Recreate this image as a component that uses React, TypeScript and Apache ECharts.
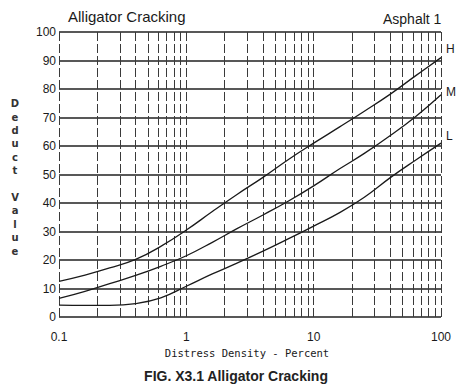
import React, { useEffect, useRef } from "react";
import * as echarts from "echarts";

const density = [0.1, 0.16, 0.25, 0.4, 0.63, 1, 1.6, 2.5, 4, 6.3, 10, 16, 25, 40, 63, 100];
const highValues = [12.5, 14.7, 17.2, 20.2, 24.8, 30.5, 37, 43, 49, 55.2, 61, 66.7, 72.2, 78.2, 84.6, 91];
const mediumValues = [6.5, 9, 11.7, 14.6, 17.8, 21.5, 26.2, 31, 35.8, 40.6, 46, 52, 57.4, 63.7, 70.3, 78];
const lowValues = [4.2, 4.1, 4.1, 4.7, 6.7, 10.8, 15.1, 18.9, 23.1, 27.4, 31.9, 36.6, 42, 48.9, 55, 61];
const minorGridX = [
  0.2, 0.3, 0.4, 0.5, 0.6, 0.7, 0.8, 0.9,
  2, 3, 4, 5, 6, 7, 8, 9,
  20, 30, 40, 50, 60, 70, 80, 90,
];
const severityLabels = ["H", "M", "L"];

const FONT = "'Liberation Sans', Arial, sans-serif";
const INK = "#1a1a1a";

export default function App() {
  const ref = useRef<HTMLDivElement>(null);
  useEffect(() => {
    if (!ref.current) return;
    const chart = echarts.init(ref.current, null, { renderer: "svg" });
    const mk = (vals: number[]) => density.map((d, i) => [d, vals[i]]);
    const curveStyle = { color: INK, width: 1.3 };
    const series: any[] = [
      { name: "H", data: mk(highValues) },
      { name: "M", data: mk(mediumValues) },
      { name: "L", data: mk(lowValues) },
    ].map((s, i) => ({
      type: "line",
      name: s.name,
      data: s.data,
      smooth: 0.45,
      showSymbol: false,
      lineStyle: curveStyle,
      silent: true,
      z: 5,
      markLine:
        i === 0
          ? {
              silent: true,
              symbol: "none",
              label: { show: false },
              lineStyle: { color: "#3a3a3a", width: 1, type: [9, 3] },
              data: minorGridX.map((x) => ({ xAxis: x })),
            }
          : undefined,
    }));
    const labelY = [50, 93, 137];
    chart.setOption({
      animation: false,
      grid: { left: 59, right: 16, top: 32, bottom: 73 },
      xAxis: {
        type: "log",
        logBase: 10,
        min: 0.1,
        max: 100,
        axisLine: { show: false },
        axisTick: { show: false },
        axisLabel: {
          color: INK,
          fontSize: 12,
          fontFamily: FONT,
          margin: 14,
          formatter: (v: number) => String(v),
        },
        splitLine: { show: true, lineStyle: { color: "#3a3a3a", width: 1, type: [9, 3] } },
      },
      yAxis: {
        type: "value",
        min: 0,
        max: 100,
        interval: 10,
        axisLine: { show: false },
        axisTick: { show: false },
        axisLabel: { color: INK, fontSize: 12, fontFamily: FONT, margin: 3 },
        splitLine: { show: true, lineStyle: { color: "#202020", width: 1.6 } },
      },
      series,
      graphic: [
        {
          type: "text",
          left: 68,
          top: 9,
          style: { text: "Alligator Cracking", font: `15px ${FONT}`, fill: INK },
        },
        {
          type: "text",
          left: 383,
          top: 12,
          style: { text: "Asphalt 1", font: `14px ${FONT}`, fill: INK },
        },
        ...severityLabels.map((t, i) => ({
          type: "text",
          left: 446,
          top: labelY[i] - 7,
          style: { text: t, font: `12px ${FONT}`, fill: INK },
        })),
        {
          type: "text",
          x: 15,
          y: 97,
          style: {
            text: "D\ne\nd\nu\nc\nt\n \nV\na\nl\nu\ne",
            font: `bold 10px 'DejaVu Sans', sans-serif`,
            lineHeight: 13.4,
            align: "center",
            fill: "#333",
          },
        },
        {
          type: "text",
          x: 247,
          y: 353,
          style: {
            text: "Distress Density - Percent",
            font: `10.5px 'DejaVu Sans Mono', monospace`,
            align: "center",
            verticalAlign: "middle",
            fill: INK,
          },
        },
        {
          type: "text",
          x: 236,
          y: 376,
          style: {
            text: "FIG. X3.1 Alligator Cracking",
            font: `bold 14px ${FONT}`,
            align: "center",
            verticalAlign: "middle",
            fill: "#222",
          },
        },
      ],
    });
    return () => chart.dispose();
  }, []);
  return (
    <div
      ref={ref}
      style={{ position: "fixed", left: 0, top: 0, width: 457, height: 390, background: "#fff" }}
    />
  );
}
